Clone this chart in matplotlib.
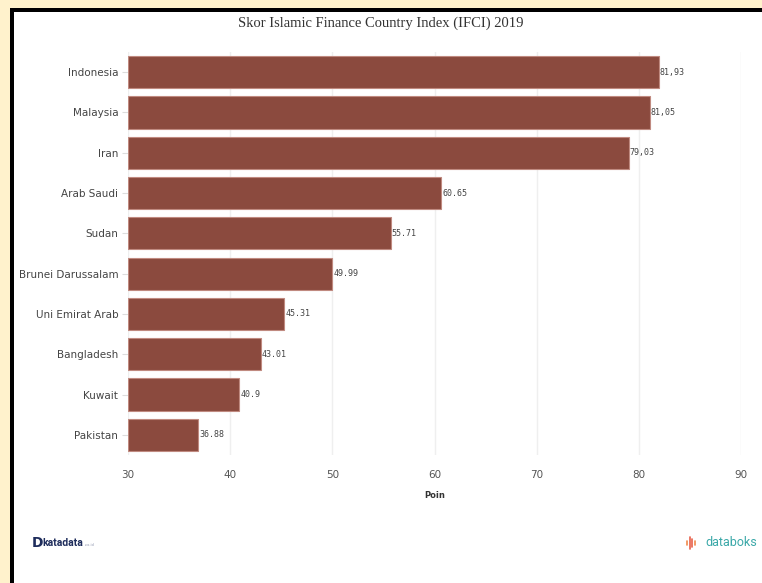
import matplotlib
matplotlib.use("Agg")
import matplotlib.pyplot as plt
from matplotlib.patches import Rectangle
from matplotlib.lines import Line2D

countries = ["Indonesia", "Malaysia", "Iran", "Arab Saudi", "Sudan",
             "Brunei Darussalam", "Uni Emirat Arab", "Bangladesh", "Kuwait", "Pakistan"]
values = [81.93, 81.05, 79.03, 60.65, 55.71, 49.99, 45.31, 43.01, 40.9, 36.88]
value_labels = ["81,93", "81,05", "79,03", "60.65", "55.71", "49.99", "45.31", "43.01", "40.9", "36.88"]
xticks = [30, 40, 50, 60, 70, 80, 90]

W, H = 762, 583
fig = plt.figure(figsize=(W/100, H/100), dpi=100)
fig.patch.set_facecolor("#fff2cc")

# white panel with black border on top/left
fig.patches.append(Rectangle((10/W, 0), 1 - 10/W, 1 - 8/H, transform=fig.transFigure,
                             facecolor="black", edgecolor="none", zorder=-2))
fig.patches.append(Rectangle((14/W, 0), 1 - 14/W, 1 - 12/H, transform=fig.transFigure,
                             facecolor="white", edgecolor="none", zorder=-1))

ax = fig.add_axes([128/W, 1 - 455/H, (741-128)/W, (455-52)/H])
ax.set_zorder(1)
ax.set_facecolor("white")
y = list(range(len(countries)))
ax.barh(y, [v - 30 for v in values], left=30, height=0.8, color="#8b4a3e",
        edgecolor="#c08a80", linewidth=0.8, zorder=3)
for yi, v, lab in zip(y, values, value_labels):
    ax.text(v + 0.1, yi, lab, va="center", ha="left", fontsize=6,
            family="DejaVu Sans Mono", color="#444444", zorder=4)

ax.set_xlim(30, 90)
ax.set_ylim(len(countries) - 0.5, -0.5)
ax.set_xticks(xticks)
ax.set_xticklabels([str(t) for t in xticks], fontsize=7.5, color="#555555", family="DejaVu Sans")
ax.set_yticks(y)
ax.set_yticklabels(countries, fontsize=7.5, color="#444444", family="DejaVu Sans")
ax.tick_params(axis="x", length=0, pad=11)
ax.tick_params(axis="y", length=4, color="#dddddd", pad=3)
ax.grid(axis="x", color="#efefef", linewidth=1, zorder=0)
for s in ax.spines.values():
    s.set_visible(False)
ax.set_xlabel("Poin", fontsize=6, fontweight="bold", color="#333333", labelpad=8)

fig.text(381/W, 1 - 23/H, "Skor Islamic Finance Country Index (IFCI) 2019",
         ha="center", va="center", fontsize=10.5, family="Liberation Serif", color="#333333")

# katadata logo text
fig.text(32/W, 1 - 543/H, "D", ha="left", va="center", fontsize=10, fontweight="bold",
         color="#1f2d5c", family="DejaVu Sans")
fig.text(42/W, 1 - 543/H, "katadata", ha="left", va="center", fontsize=7.5, fontweight="bold",
         color="#1f2d5c", family="Roboto")
fig.text(85/W, 1 - 545/H, ".co.id", ha="left", va="center", fontsize=2.5,
         color="#8890aa", family="DejaVu Sans")

# databoks icon (small vertical strokes) and text
icon = [(687, 541, 545, "#f08a4b"), (689.5, 537, 549, "#e8604a"),
        (692, 539, 547, "#e8604a"), (694.5, 541, 545, "#f08a4b")]
for xp, y0, y1, c in icon:
    fig.add_artist(Line2D([xp/W, xp/W], [1 - y0/H, 1 - y1/H], transform=fig.transFigure,
                          color=c, linewidth=1.2, solid_capstyle="round"))
fig.text(757/W, 1 - 543/H, "databoks", ha="right", va="center", fontsize=9,
         color="#3aa8a8", family="Roboto")

fig.savefig("out.png", dpi=100, facecolor=fig.get_facecolor())
